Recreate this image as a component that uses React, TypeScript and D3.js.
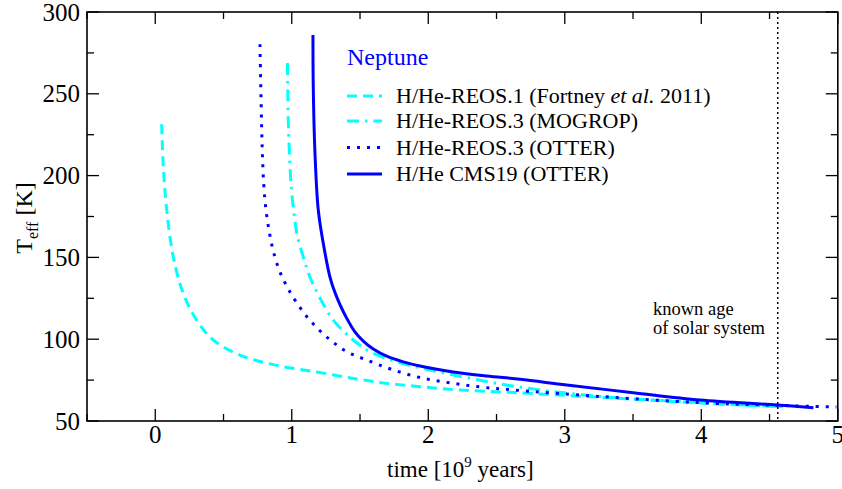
import React from "react";
import * as d3 from "d3";

const W = 842;
const H = 489;

// time [10^9 years], T_eff [K]
const reos1T = [0.047, 0.059, 0.084, 0.132, 0.205, 0.303, 0.425, 0.621, 0.889, 1.182, 1.451, 1.695, 1.939, 2.232, 2.599, 3.258, 3.99, 4.43, 4.6];
const reos1V = [231.4, 205.4, 179, 150.4, 128, 111.7, 99.5, 90.3, 84, 80, 76, 73, 71, 69, 67.5, 64.5, 61, 59.3, 58.7];

const mogropT = [0.9685, 0.9744, 0.9868, 0.9978, 1.0161, 1.0381, 1.0842, 1.1333, 1.2066, 1.304, 1.4505, 1.573, 1.768, 2.012, 2.306, 2.648, 3.258, 3.99, 4.43, 4.6];
const mogropV = [268.8, 234, 206.5, 191.2, 177.2, 164.3, 150.3, 138, 125.2, 111.7, 99.5, 92.4, 86.2, 81.2, 76.1, 71, 65, 61.3, 59.3, 58.7];

const otterT = [0.767, 0.7758, 0.7839, 0.7949, 0.811, 0.833, 0.8645, 0.9136, 0.9868, 1.0842, 1.1824, 1.2923, 1.4022, 1.549, 1.744, 1.963, 2.183, 2.403, 2.623, 3.258, 3.99, 4.576, 4.99];
const otterV = [280.3, 243.2, 215.6, 194.3, 179, 166.7, 153.9, 141.1, 128.9, 116.6, 107.1, 98.9, 92.4, 87.3, 81.2, 76.1, 73, 70.6, 69, 65, 61.2, 59.5, 58.6];

const cmsT = [1.1553, 1.1575, 1.17, 1.1941, 1.2308, 1.2799, 1.3165, 1.3531, 1.4022, 1.4601, 1.5238, 1.6, 1.6952, 1.8103, 1.9392, 2.183, 2.428, 2.672, 3.014, 3.502, 3.99, 4.552, 4.821];
const cmsV = [285.9, 254.2, 213.8, 179, 158.6, 138, 128.5, 121.2, 112.9, 104.8, 98.8, 93.8, 89.6, 86.3, 83.6, 80, 77.5, 75.5, 72, 67.3, 62.8, 59.8, 58.1];

const xMajor = [0, 1, 2, 3, 4, 5];
const xMinor = [-0.5, 0.5, 1.5, 2.5, 3.5, 4.5];
const yMajor = [50, 100, 150, 200, 250, 300];
const yMinor = [75, 125, 175, 225, 275];
const solarAge = 4.56;

const FONT = "'Liberation Serif', 'Times New Roman', Times, serif";
const BLUE = "#0000ff";
const CYAN = "#00ffff";

const series = [
  { t: reos1T, v: reos1V, color: CYAN, dash: "10,6", label: "reos1" },
  { t: mogropT, v: mogropV, color: CYAN, dash: "12,6,2.5,6", label: "mogrop" },
  { t: otterT, v: otterV, color: BLUE, dash: "3,7", label: "otter" },
  { t: cmsT, v: cmsV, color: BLUE, dash: "", label: "cms" },
];

export default function App() {
  const x = d3.scaleLinear().domain([-0.5, 5]).range([87, 837.8]);
  const y = d3.scaleLinear().domain([50, 300]).range([421, 12]);
  const [x0, x1] = x.range();
  const [y0, y1] = y.range();
  const line = d3
    .line<[number, number]>()
    .x((d) => x(d[0]))
    .y((d) => y(d[1]))
    .curve(d3.curveCatmullRom.alpha(0.5));

  const legendRows = [96, 121, 147.5, 174];
  const legendX0 = 347;
  const legendX1 = 382;
  const legendTextX = 396;

  return (
    <svg width={W} height={H} style={{ position: "absolute", left: 0, top: 0, background: "#fff" }} fontFamily={FONT}>
      <defs>
        <clipPath id="plotclip">
          <rect x={x0} y={y1} width={x1 - x0} height={y0 - y1} />
        </clipPath>
      </defs>
      {/* curves */}
      <g clipPath="url(#plotclip)" fill="none">
        {series.map((s) => (
          <path
            key={s.label}
            d={line(s.t.map((t, i) => [t, s.v[i]] as [number, number])) || ""}
            stroke={s.color}
            strokeWidth={3}
            strokeDasharray={s.dash || undefined}
          />
        ))}
        <line x1={x(solarAge)} x2={x(solarAge)} y1={y1} y2={y0} stroke="#000" strokeWidth={1.5} strokeDasharray="2,3" />
      </g>

      {/* frame */}
      <rect x={x0} y={y1} width={x1 - x0} height={y0 - y1} fill="none" stroke="#000" strokeWidth={1.6} />

      {/* x ticks */}
      {xMajor.map((t) => (
        <g key={"xm" + t}>
          <line x1={x(t)} x2={x(t)} y1={y0} y2={y0 - 12} stroke="#000" strokeWidth={1.3} />
          <line x1={x(t)} x2={x(t)} y1={y1} y2={y1 + 12} stroke="#000" strokeWidth={1.3} />
          <text x={x(t)} y={443} fontSize={25} textAnchor="middle" fill="#000">
            {t}
          </text>
        </g>
      ))}
      {xMinor.map((t) => (
        <g key={"xn" + t}>
          <line x1={x(t)} x2={x(t)} y1={y0} y2={y0 - 7} stroke="#000" strokeWidth={1.3} />
          <line x1={x(t)} x2={x(t)} y1={y1} y2={y1 + 7} stroke="#000" strokeWidth={1.3} />
        </g>
      ))}
      {/* y ticks */}
      {yMajor.map((v) => (
        <g key={"ym" + v}>
          <line x1={x0} x2={x0 + 12} y1={y(v)} y2={y(v)} stroke="#000" strokeWidth={1.3} />
          <line x1={x1} x2={x1 - 12} y1={y(v)} y2={y(v)} stroke="#000" strokeWidth={1.3} />
          <text x={80} y={y(v) + 8.5} fontSize={25} textAnchor="end" fill="#000">
            {v}
          </text>
        </g>
      ))}
      {yMinor.map((v) => (
        <g key={"yn" + v}>
          <line x1={x0} x2={x0 + 7} y1={y(v)} y2={y(v)} stroke="#000" strokeWidth={1.3} />
          <line x1={x1} x2={x1 - 7} y1={y(v)} y2={y(v)} stroke="#000" strokeWidth={1.3} />
        </g>
      ))}

      {/* axis titles */}
      <text x={387} y={477} fontSize={23} fill="#000">
        time [10<tspan dy={-10} fontSize={15}>9</tspan>
        <tspan dy={10}> years]</tspan>
      </text>
      <text transform="translate(32,218) rotate(-90)" fontSize={24} textAnchor="middle" fill="#000">
        T<tspan dy={6} fontSize={16}>eff</tspan>
        <tspan dy={-6}> [K]</tspan>
      </text>

      {/* known age annotation */}
      <text x={653} y={315} fontSize={18.5} fill="#000">known age</text>
      <text x={653} y={333.5} fontSize={18.5} fill="#000">of solar system</text>

      {/* legend */}
      <text x={347} y={65} fontSize={24} fill={BLUE}>Neptune</text>
      {series.map((s, i) => (
        <line
          key={"lg" + s.label}
          x1={legendX0}
          x2={legendX1}
          y1={legendRows[i]}
          y2={legendRows[i]}
          stroke={s.color}
          strokeWidth={3}
          strokeDasharray={s.dash || undefined}
        />
      ))}
      <text x={legendTextX} y={legendRows[0] + 7} fontSize={22} fill="#000">
        H/He-REOS.1 (Fortney <tspan fontStyle="italic">et al.</tspan> 2011)
      </text>
      <text x={legendTextX} y={legendRows[1] + 7} fontSize={22} fill="#000">H/He-REOS.3 (MOGROP)</text>
      <text x={legendTextX} y={legendRows[2] + 7} fontSize={22} fill="#000">H/He-REOS.3 (OTTER)</text>
      <text x={legendTextX} y={legendRows[3] + 7} fontSize={22} fill="#000">H/He CMS19 (OTTER)</text>
    </svg>
  );
}
